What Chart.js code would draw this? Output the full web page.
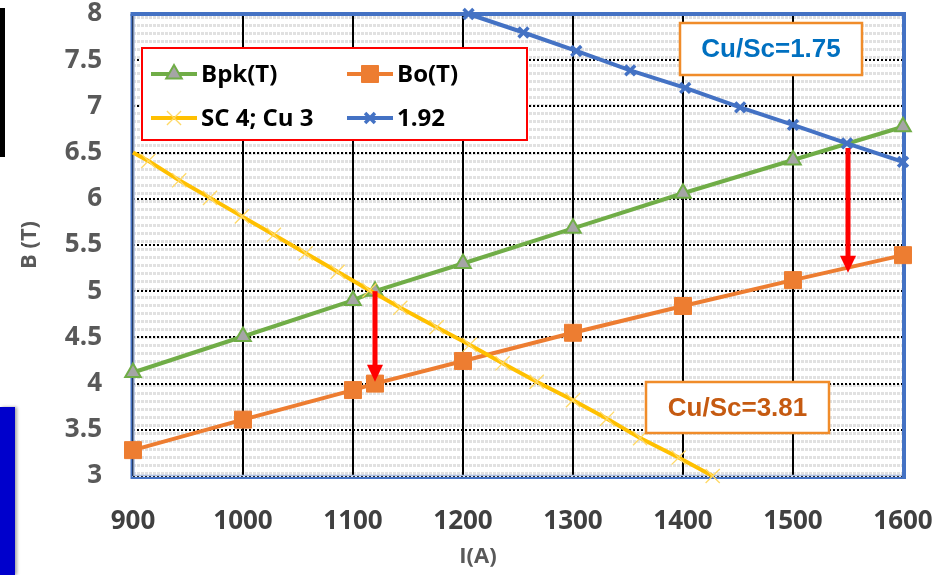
<!DOCTYPE html>
<html><head><meta charset="utf-8">
<script src="https://cdn.jsdelivr.net/npm/chart.js@4.4.0/dist/chart.umd.min.js"></script>
<style>
html,body{margin:0;padding:0;background:#fff;}
#wrap{position:relative;width:945px;height:575px;overflow:hidden;background:#fff;}
canvas{position:absolute;left:0;top:0;}
#bar1{position:absolute;left:0;top:8px;width:5px;height:149px;background:#000;}
#bar2{position:absolute;left:0;top:407px;width:15px;height:168px;background:#0000CC;box-shadow:2px 0 3px rgba(0,0,0,0.35);}
</style></head><body>
<div id="wrap"><canvas id="c" width="945" height="575"></canvas><div id="bar1"></div><div id="bar2"></div></div>
<script>
// ---- data ----
const currentA = [900, 1000, 1100, 1120, 1200, 1300, 1400, 1500, 1600];
const bpkT = [4.12, 4.51, 4.9, 5.0, 5.3, 5.68, 6.06, 6.42, 6.78];
const boT = [3.28, 3.61, 3.93, 4.0, 4.245, 4.55, 4.84, 5.12, 5.39];
const scCuA = [900, 914, 942, 970, 999, 1028, 1057, 1086, 1115, 1143, 1176, 1206, 1236, 1267, 1300, 1331, 1361, 1396, 1427];
const scCuB = [6.5, 6.41, 6.2, 6.01, 5.81, 5.61, 5.41, 5.21, 5.01, 4.82, 4.61, 4.42, 4.22, 4.02, 3.82, 3.62, 3.41, 3.2, 3.0];
const r192A = [1205, 1255, 1303, 1352, 1402, 1452, 1500, 1549, 1600];
const r192B = [8.0, 7.8, 7.6, 7.39, 7.2, 6.99, 6.8, 6.6, 6.4];
const seriesNames = ['Bpk(T)', 'Bo(T)', 'SC 4; Cu 3', '1.92'];
const xTicks = [900, 1000, 1100, 1200, 1300, 1400, 1500, 1600];
const yTicks = [3, 3.5, 4, 4.5, 5, 5.5, 6, 6.5, 7, 7.5, 8];
const arrowA = [1120, 1550];
const arrowFrom = [5.0, 6.55];
const arrowTo = [4.02, 5.2];
const noteTexts = ['Cu/Sc=1.75', 'Cu/Sc=3.81'];
const xTitle = 'I(A)';
const yTitle = 'B (T)';

const pts = (xs, ys) => xs.map((x, i) => ({x: x, y: ys[i]}));

function makeTile(){
  const t = document.createElement('canvas'); t.width = 4; t.height = 8;
  const g = t.getContext('2d');
  g.fillStyle = '#fff'; g.fillRect(0, 0, 4, 8);
  g.fillStyle = '#e1e1e1'; g.fillRect(0, 2, 3, 3);
  return t;
}

function marker(ctx, style, x, y, r, fill, stroke, lw){
  ctx.save();
  ctx.lineWidth = lw; ctx.strokeStyle = stroke; ctx.fillStyle = fill;
  ctx.beginPath();
  if (style === 'triangle'){
    for (let k = 0; k < 3; k++){
      const a = k * 2 * Math.PI / 3;
      const px = x + Math.sin(a) * r, py = y - Math.cos(a) * r;
      if (k === 0) ctx.moveTo(px, py); else ctx.lineTo(px, py);
    }
    ctx.closePath(); ctx.fill(); ctx.stroke();
  } else if (style === 'rect'){
    const s = Math.SQRT1_2 * r;
    ctx.rect(x - s, y - s, 2 * s, 2 * s); ctx.fill(); ctx.stroke();
  } else if (style === 'crossRot'){
    const s = Math.SQRT1_2 * r;
    ctx.moveTo(x - s, y - s); ctx.lineTo(x + s, y + s);
    ctx.moveTo(x + s, y - s); ctx.lineTo(x - s, y + s);
    ctx.stroke();
  }
  ctx.restore();
}

const deco = {
  id: 'deco',
  beforeDraw(chart){
    const {ctx, chartArea: a} = chart;
    ctx.save();
    ctx.fillStyle = '#fff'; ctx.fillRect(0, 0, chart.width, chart.height);
    const pat = ctx.createPattern(makeTile(), 'repeat');
    ctx.translate(a.left, a.top);
    ctx.fillStyle = pat; ctx.fillRect(0, 0, a.right - a.left, a.bottom - a.top);
    ctx.restore();
  },
  beforeDatasetsDraw(chart){
    const {ctx, chartArea: a} = chart;
    ctx.save();
    ctx.strokeStyle = '#4472C4'; ctx.lineWidth = 2;
    ctx.beginPath(); ctx.moveTo(a.left - 1.5, a.top); ctx.lineTo(a.left - 1.5, a.bottom + 2); ctx.lineTo(a.right, a.bottom + 2); ctx.stroke();
    ctx.strokeStyle = '#A9BCE0'; ctx.lineWidth = 1.5;
    ctx.beginPath(); ctx.moveTo(a.left + 1, a.top); ctx.lineTo(a.left + 1, a.bottom - 0.5); ctx.lineTo(a.right, a.bottom - 0.5); ctx.stroke();
    ctx.strokeStyle = '#4472C4'; ctx.lineWidth = 4;
    ctx.beginPath(); ctx.moveTo(a.left - 2.5, a.top); ctx.lineTo(a.right + 1, a.top); ctx.lineTo(a.right + 1, a.bottom + 3); ctx.stroke();
    // x axis title
    ctx.fillStyle = '#595959'; ctx.font = 'bold 22px "Open Sans", sans-serif';
    ctx.textAlign = 'center'; ctx.textBaseline = 'middle';
    ctx.fillText(xTitle, 478, 557);
    ctx.restore();
  },
  afterDatasetsDraw(chart){
    const {ctx} = chart;
    const xs = chart.scales.x, ys = chart.scales.y;
    ctx.save();
    ctx.fillStyle = '#FF0000';
    arrowA.forEach((v, i) => {
      const x = xs.getPixelForValue(v);
      const y1 = ys.getPixelForValue(arrowFrom[i]);
      const y2 = ys.getPixelForValue(arrowTo[i]);
      ctx.fillRect(x - 2.5, y1, 5, y2 - y1 - 15);
      ctx.beginPath(); ctx.moveTo(x - 8, y2 - 17); ctx.lineTo(x + 8, y2 - 17); ctx.lineTo(x, y2); ctx.closePath(); ctx.fill();
    });
    const boxes = [
      {x: 680, y: 23, w: 182, h: 52, color: '#0070C0'},
      {x: 646, y: 382, w: 183, h: 51, color: '#C55A11'}
    ];
    boxes.forEach((b, i) => {
      ctx.fillStyle = '#fff'; ctx.fillRect(b.x, b.y, b.w, b.h);
      ctx.strokeStyle = '#F08C2A'; ctx.lineWidth = 2.5; ctx.strokeRect(b.x, b.y, b.w, b.h);
      ctx.fillStyle = b.color; ctx.font = 'bold 26px "Liberation Sans", Arial, sans-serif';
      ctx.textAlign = 'center'; ctx.textBaseline = 'middle';
      ctx.fillText(noteTexts[i], b.x + b.w / 2, b.y + b.h / 2 + 1);
    });
    const L = {x: 142, y: 48, w: 385, h: 92};
    ctx.fillStyle = '#fff'; ctx.fillRect(L.x, L.y, L.w, L.h);
    ctx.strokeStyle = '#FF0000'; ctx.lineWidth = 2; ctx.strokeRect(L.x, L.y, L.w, L.h);
    const cols = [151, 347], rows = [74, 118];
    chart.data.datasets.forEach((d, i) => {
      const cx = cols[i % 2], cy = rows[Math.floor(i / 2)];
      ctx.strokeStyle = d.borderColor; ctx.lineWidth = d.borderWidth;
      ctx.beginPath(); ctx.moveTo(cx, cy); ctx.lineTo(cx + 46, cy); ctx.stroke();
      marker(ctx, d.pointStyle, cx + 23, cy, d.legendRadius, d.pointBackgroundColor, d.pointBorderColor, d.pointBorderWidth);
      ctx.fillStyle = '#000'; ctx.font = 'bold 24px "Open Sans", sans-serif';
      ctx.textAlign = 'left'; ctx.textBaseline = 'middle';
      ctx.fillText(d.label, cx + 50, cy + 1);
    });
    ctx.restore();
  }
};

const tickFont = {family: '"Open Sans", sans-serif', weight: 'bold', size: 26};
const titleFont = {family: '"Open Sans", sans-serif', weight: 'bold', size: 22};

new Chart(document.getElementById('c'), {
  type: 'scatter',
  data: {
    datasets: [
      {label: seriesNames[0], data: pts(currentA, bpkT), showLine: true, order: 4,
       borderColor: '#70AD47', borderWidth: 4, pointStyle: 'triangle', pointRadius: 9, legendRadius: 9,
       pointBackgroundColor: '#A5A5A5', pointBorderColor: '#70AD47', pointBorderWidth: 2, clip: false},
      {label: seriesNames[1], data: pts(currentA, boT), showLine: true, order: 3,
       borderColor: '#ED7D31', borderWidth: 4, pointStyle: 'rect', pointRadius: 12, legendRadius: 12,
       pointBackgroundColor: '#ED7D31', pointBorderColor: '#ED7D31', pointBorderWidth: 1, clip: false},
      {label: seriesNames[2], data: pts(scCuA, scCuB), showLine: true, order: 2,
       borderColor: '#FFC000', borderWidth: 4, pointStyle: 'crossRot',
       pointRadius: (c) => c.dataIndex === 0 ? 0 : 10, legendRadius: 10,
       pointBackgroundColor: '#FFD966', pointBorderColor: '#FFD966', pointBorderWidth: 1.3, clip: false},
      {label: seriesNames[3], data: pts(r192A, r192B), showLine: true, order: 1,
       borderColor: '#4472C4', borderWidth: 4, pointStyle: 'crossRot', pointRadius: 7, legendRadius: 7,
       pointBackgroundColor: '#4472C4', pointBorderColor: '#4472C4', pointBorderWidth: 3.5, clip: false}
    ]
  },
  options: {
    responsive: false, animation: false, devicePixelRatio: 1,
    layout: {padding: {left: 0, top: 14, right: 42, bottom: 0}},
    plugins: {legend: {display: false}, tooltip: {enabled: false}},
    scales: {
      x: {
        type: 'linear', min: 900, max: 1600,
        afterBuildTicks: (s) => { s.ticks = xTicks.map(v => ({value: v})); },
        afterFit: (s) => { s.height = 99; s.paddingLeft = 0; s.paddingRight = 0; s.paddingTop = 0; s.paddingBottom = 0; },
        grid: {color: '#000', lineWidth: 2, drawTicks: false},
        border: {display: false},
        ticks: {font: tickFont, color: '#404040', padding: 30, maxRotation: 0, autoSkip: false, callback: (v) => String(v)},
        title: {display: false}
      },
      y: {
        type: 'linear', min: 3, max: 8,
        afterBuildTicks: (s) => { s.ticks = yTicks.map(v => ({value: v})); },
        afterFit: (s) => { s.width = 133; s.paddingLeft = 0; s.paddingRight = 0; s.paddingTop = 0; s.paddingBottom = 0; },
        grid: {color: '#000', lineWidth: 2, drawTicks: false},
        border: {display: false, dash: [2, 2]},
        ticks: {font: tickFont, color: '#595959', padding: 31, autoSkip: false, callback: (v) => String(v)},
        title: {display: true, text: yTitle, font: titleFont, color: '#595959', padding: {top: 17, bottom: 0}}
      }
    }
  },
  plugins: [deco]
});
</script>
</body></html>
